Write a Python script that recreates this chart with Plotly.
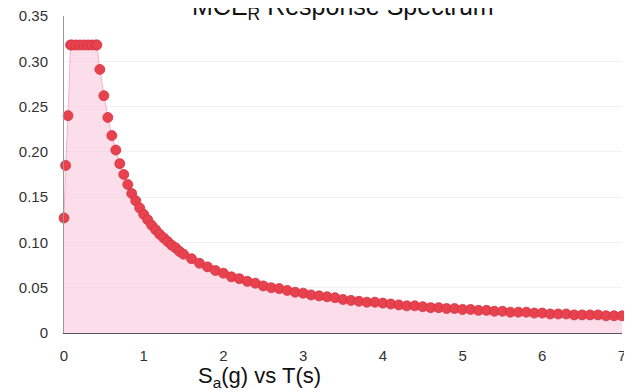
import plotly.graph_objects as go

# Period T (s)
period = [0, 0.02, 0.05, 0.082, 0.1, 0.15, 0.2, 0.25, 0.3, 0.35, 0.4, 0.412,
          0.45, 0.5, 0.55, 0.6, 0.65, 0.7, 0.75, 0.8, 0.85, 0.9, 0.95, 1.0,
          1.05, 1.1, 1.15, 1.2, 1.25, 1.3, 1.35, 1.4, 1.45, 1.5,
          1.6, 1.7, 1.8, 1.9, 2.0, 2.1, 2.2, 2.3, 2.4, 2.5, 2.6, 2.7, 2.8, 2.9,
          3.0, 3.1, 3.2, 3.3, 3.4, 3.5, 3.6, 3.7, 3.8, 3.9, 4.0, 4.1, 4.2, 4.3,
          4.4, 4.5, 4.6, 4.7, 4.8, 4.9, 5.0, 5.1, 5.2, 5.3, 5.4, 5.5, 5.6, 5.7,
          5.8, 5.9, 6.0, 6.1, 6.2, 6.3, 6.4, 6.5, 6.6, 6.7, 6.8, 6.9, 7.0]

# Spectral acceleration Sa (g)
sa = [0.127, 0.185, 0.240, 0.318, 0.318, 0.318, 0.318, 0.318, 0.318, 0.318, 0.318, 0.318,
      0.291, 0.262, 0.238, 0.218, 0.202, 0.187, 0.175, 0.164, 0.154, 0.146, 0.138, 0.131,
      0.125, 0.119, 0.114, 0.109, 0.105, 0.101, 0.097, 0.094, 0.090, 0.087,
      0.082, 0.077, 0.073, 0.069, 0.066, 0.062, 0.060, 0.057, 0.055, 0.052, 0.050, 0.049, 0.047, 0.045,
      0.044, 0.042, 0.041, 0.040, 0.039, 0.037, 0.036, 0.035, 0.034, 0.034, 0.033, 0.032, 0.031, 0.030,
      0.030, 0.029, 0.028, 0.028, 0.027, 0.027, 0.026, 0.026, 0.025, 0.025, 0.024, 0.024, 0.023, 0.023,
      0.023, 0.022, 0.022, 0.021, 0.021, 0.021, 0.020, 0.020, 0.020, 0.020, 0.019, 0.019, 0.019]

y_tickvals = [0, 0.05, 0.10, 0.15, 0.20, 0.25, 0.30, 0.35]
y_ticktext = ["0", "0.05", "0.10", "0.15", "0.20", "0.25", "0.30", "0.35"]
x_tickvals = [0, 1, 2, 3, 4, 5, 6, 7]

fig = go.Figure()
fig.add_trace(go.Scatter(
    x=period, y=sa, mode="lines+markers",
    fill="tozeroy", fillcolor="rgba(249,200,218,0.6)",
    line=dict(color="rgba(240,120,150,0.5)", width=1),
    marker=dict(size=10, color="#e8424f", line=dict(color="#d43343", width=0.8)),
    cliponaxis=False, showlegend=False,
))

fig.update_layout(
    width=624, height=383,
    margin=dict(l=56, r=10, t=8, b=58, autoexpand=False),
    paper_bgcolor="white", plot_bgcolor="white",
    font=dict(family="Liberation Sans, Arial, sans-serif", color="#333"),
    xaxis=dict(range=[0, 7], tickvals=x_tickvals, showgrid=False, zeroline=False,
               showline=True, linecolor="#555", linewidth=1, automargin=False,
               tickfont=dict(size=15, color="#333"), ticklabeloverflow="allow",
               ticks="outside", ticklen=9, tickcolor="rgba(0,0,0,0)"),
    yaxis=dict(range=[0, 0.35], tickvals=y_tickvals, ticktext=y_ticktext,
               showgrid=True, gridcolor="rgba(230,230,230,0.5)", zeroline=False,
               showline=True, linecolor="#999", linewidth=1, automargin=False,
               tickfont=dict(size=15, color="#333"), ticklabeloverflow="allow",
               ticks="outside", ticklen=12, tickcolor="rgba(0,0,0,0)"),
    annotations=[
        dict(text="MCE<sub>R</sub> Response Spectrum", x=0.5, y=1.025,
             xref="paper", yref="paper", xanchor="center", yanchor="middle",
             showarrow=False, font=dict(size=25, color="#111")),
        dict(text="S<sub>a</sub>(g) vs T(s)", x=0.35, y=-0.14,
             xref="paper", yref="paper", xanchor="center", yanchor="middle",
             showarrow=False, font=dict(size=22, color="#111")),
    ],
)

fig.write_html("out.html")
